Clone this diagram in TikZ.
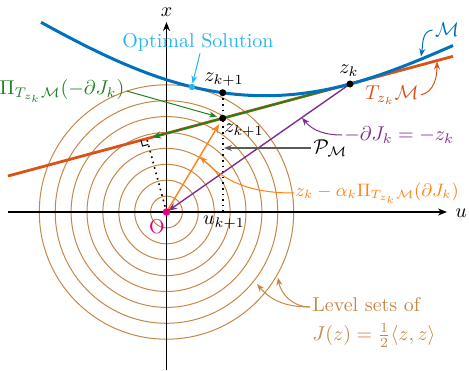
\documentclass[tikz,border=0pt]{standalone}
\usepackage{amsmath,amssymb}
\usetikzlibrary{arrows.meta,calc}
\definecolor{mblue}{RGB}{0,114,189}
\definecolor{mred}{RGB}{217,83,25}
\definecolor{mgreen}{RGB}{30,130,30}
\definecolor{mpurple}{RGB}{126,47,142}
\definecolor{morange}{RGB}{255,130,20}
\definecolor{mcyan}{RGB}{40,180,240}
\definecolor{mbrown}{RGB}{200,135,70}
\definecolor{mmag}{RGB}{230,0,126}
\definecolor{mgray}{RGB}{90,90,90}
\tikzset{
  levelc/.style={draw=mbrown,line width=0.5pt},
  axisline/.style={line width=0.9pt,-{Stealth[length=4.5pt,width=3.5pt]}},
  tangentline/.style={draw=mred,line width=1.4pt},
  greenline/.style={draw=mgreen,line width=0.9pt,-{Stealth[length=4.5pt,width=3.5pt]}},
  mcurve/.style={draw=mblue,line width=1.5pt},
  purpleline/.style={draw=mpurple,line width=0.7pt,-{Stealth[length=4.5pt,width=3.5pt]}},
  orangeline/.style={draw=morange,line width=0.7pt,-{Stealth[length=4.5pt,width=3.5pt]}},
  dotline/.style={dotted,line width=0.8pt},
  annot/.style={line width=0.5pt,-{Stealth[length=4pt,width=3pt]}},
  lbl/.style={inner sep=1pt},
}
\begin{document}
\begin{tikzpicture}[x=0.5pt,y=0.5pt]
\useasboundingbox (0,0) rectangle (469,370);
% key points
\coordinate (O) at (166.5,158);
\coordinate (xl) at (8,158);
\coordinate (xr) at (447,158);
\coordinate (yb) at (166.5,0);
\coordinate (yt) at (166.5,348);
\coordinate (P0) at (8,194);
\coordinate (P1) at (453,313.7);
\coordinate (mstart) at (41,347.7);
\coordinate (mend) at (453,324.5);
\coordinate (zk) at (350,286);
\coordinate (zkp1) at (222.7,251.8);
\coordinate (zkp1top) at (222.7,277.3);
\coordinate (uk) at (222.7,158);
\coordinate (G) at (152,232.7);
\coordinate (opt) at (192,283);
% level sets
\foreach \r in {1,...,8} \draw[levelc] (O) circle[radius={15.9*\r}];
% axes
\draw[axisline] (xl) -- (xr);
\draw[axisline] (yb) -- (yt);
\node[lbl] (ulab) at (461,157) {$u$};
\node[lbl] (xlab) at (166.5,358) {$x$};
% tangent space
\draw[tangentline] (P0) -- (P1);
\draw[greenline] (zk) -- (G);
% manifold
\draw[mcurve] (mstart) .. controls (141,292.7) and (230,253.7) .. (zk)
  .. controls (385,295.4) and (420,310) .. (mend);
% perpendicular foot
\coordinate (F) at ($(P0)!(O)!(P1)$);
\draw[dotline] (O) -- (F);
\coordinate (Ra) at ($(F)!3pt!(P0)$);
\coordinate (Rc) at ($(F)!3pt!(O)$);
\coordinate (Rb) at ($(Ra)+(Rc)-(F)$);
\draw[line width=0.5pt] (Ra) -- (Rb) -- (Rc);
% projection to u
\draw[dotline] (zkp1top) -- (uk);
% gradient and step
\draw[purpleline,shorten >=1pt] (zk) -- (O);
\draw[orangeline,shorten >=3.5pt] (O) -- (zkp1);
% points
\fill (zk) circle[radius=3.5];
\fill (zkp1) circle[radius=3.5];
\fill (zkp1top) circle[radius=3.5];
\fill[mcyan] (opt) circle[radius=3.2];
\fill[mmag] (O) circle[radius=3.8];
% labels
\node[lbl] (zklab) at (349,299) {$z_k$};
\node[lbl] (zkp1toplab) at (224,290) {$z_{k+1}$};
\node[lbl] (zkp1lab) at (244,239) {$z_{k+1}$};
\node[lbl] (uklab) at (224,147) {$u_{k+1}$};
\node[lbl,text=mmag] (Olab) at (157,143) {O};
\node[lbl,text=mcyan] (optlab) at (198,328) {Optimal Solution};
\node[lbl,text=mgreen] (pilab) at (62,279) {$\Pi_{T_{z_k}\mathcal{M}}(-\partial J_k)$};
\node[lbl,text=mblue] (mlab) at (447,340) {$\mathcal{M}$};
\node[lbl,text=mred] (tlab) at (392,275) {$T_{z_k}\mathcal{M}$};
\node[lbl,anchor=west] (pmlab) at (311,222) {$\mathcal{P}_{\mathcal{M}}$};
\node[lbl,anchor=west,text=mpurple] (djlab) at (342,235) {$-\partial J_k=-z_k$};
\node[anchor=west,text=morange,inner sep=0.5pt,font=\fontsize{9.2pt}{11pt}\selectfont] (steplab) at (294,177) {$z_k-\alpha_k\Pi_{T_{z_k}\mathcal{M}}(\partial J_k)$};
\node[anchor=north west,text=mbrown,align=left,inner sep=0pt] (levlab) at (312,73) {Level sets of\\[2.5pt]$J(z)=\frac{1}{2}\langle z,z\rangle$};
% annotation arrows
\coordinate (optTip) at (192.5,286.5);
\draw[annot,draw=mcyan] (optlab.south) ++(2,0) coordinate (optS) -- (optTip);
\draw[annot,draw=mgreen,shorten >=3pt] (pilab.east) -- (zkp1);
\coordinate (mTip) at (421,313.5);
\draw[annot,draw=mblue] (mlab.west) to[out=185,in=80] (mTip);
\coordinate (tTip) at (437,308.5);
\draw[annot,draw=mred] (tlab.east) to[out=15,in=-90] (tTip);
\coordinate (pmTip) at (224,222);
\draw[annot,draw=mgray,line width=0.7pt] (pmlab.west) -- (pmTip);
\coordinate (djTip) at (302,252.2);
\draw[annot,draw=mpurple] (djlab.west) to[out=180,in=-50] (djTip);
\coordinate (stTip) at (200,213.5);
\draw[annot,draw=morange] (steplab.west) to[out=180,in=-45] (stTip);
\coordinate (lvS) at (310,63);
\coordinate (lvTip1) at (257,86);
\coordinate (lvTip2) at (278,92.5);
\draw[annot,draw=mbrown] (lvS) to[out=180,in=-50] (lvTip1);
\draw[annot,draw=mbrown] (lvS) to[out=180,in=-80] (lvTip2);
\end{tikzpicture}
\end{document}
